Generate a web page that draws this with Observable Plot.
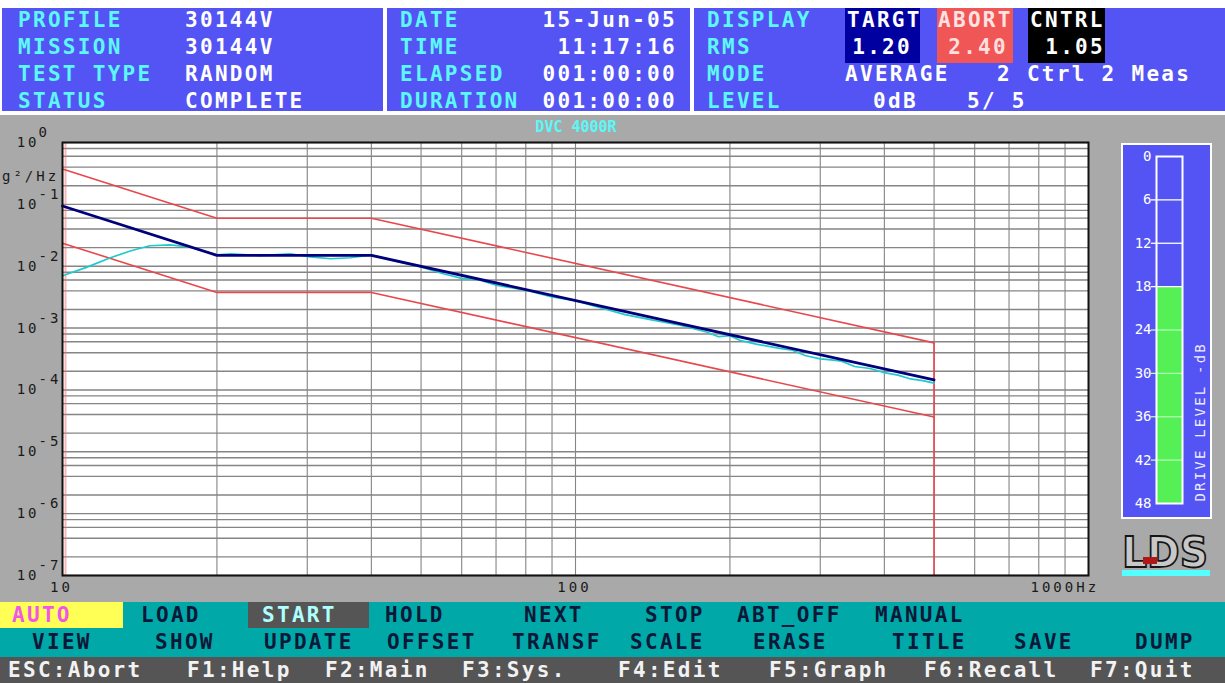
<!DOCTYPE html>
<html>
<head>
<meta charset="utf-8">
<script src="https://cdn.jsdelivr.net/npm/d3@7"></script>
<script src="https://cdn.jsdelivr.net/npm/@observablehq/plot@0.6"></script>
<style>
html, body { margin:0; padding:0; background:#a9a9a9; }
#screen { position:relative; width:1225px; height:683px; overflow:hidden; background:#a9a9a9; font-family:"DejaVu Sans Mono", monospace; }
.abs { position:absolute; }
.tx { position:absolute; white-space:pre; font-weight:bold; font-size:21px; line-height:22px; letter-spacing:2.3px; }
.sm { position:absolute; white-space:pre; font-size:14px; line-height:16px; letter-spacing:3px; }
#chart text { letter-spacing:3px; }
</style>
</head>
<body>
<div id="screen">
  <!-- header panels -->
  <div class="abs" style="left:0;top:0;width:1225px;height:115px;background:#ffffff"></div>
  <div class="abs" style="left:2px;top:8px;width:381px;height:103px;background:#5454f4"></div>
  <div class="abs" style="left:387px;top:8px;width:303px;height:103px;background:#5454f4"></div>
  <div class="abs" style="left:694px;top:8px;width:531px;height:103px;background:#5454f4"></div>
  <div class="abs" style="left:845px;top:8px;width:75px;height:55px;background:#0000a0"></div>
  <div class="abs" style="left:937px;top:8px;width:76px;height:55px;background:#f05656"></div>
  <div class="abs" style="left:1028px;top:8px;width:77px;height:55px;background:#000000"></div>
  <!-- footer panels -->
  <div class="abs" style="left:0;top:602px;width:1225px;height:55px;background:#00a8a8"></div>
  <div class="abs" style="left:0;top:602px;width:123px;height:26px;background:#ffff55"></div>
  <div class="abs" style="left:248px;top:602px;width:121px;height:26px;background:#555555"></div>
  <div class="abs" style="left:0;top:657px;width:1225px;height:26px;background:#555555"></div>
  <!-- chart -->
  <div id="chart" class="abs" style="left:0;top:115px;width:1225px;height:480px"></div>
  <!-- drive meter -->
  <div id="meter" class="abs" style="left:1121px;top:143px;width:87px;height:372px;border:2px solid #ffffff;background:#5454f4"></div>
  <!-- logo -->
  <svg class="abs" style="left:1116px;top:522px;overflow:visible" width="102" height="60">
    <text x="6" y="45" textLength="86" lengthAdjust="spacingAndGlyphs" font-family="DejaVu Sans" font-weight="bold" font-size="42" fill="#c8c8c8" stroke="#151515" stroke-width="1.8">LDS</text>
    <rect x="27" y="35" width="14" height="7" fill="#b01818"></rect>
    <rect x="6" y="48" width="88" height="6" fill="#55ffff"></rect>
  </svg>
</div>
<script>
// ---------------- data ----------------
const freqBreaks   = [10, 20, 40, 500];
const targetPSD    = [0.094, 0.015, 0.015, 0.000145];
const abortHighPSD = [0.374, 0.0597, 0.0597, 0.000577];
const abortLowPSD  = [0.0236, 0.00377, 0.00377, 0.0000364];

const controlFreq = [10, 11.1, 12.4, 13.6, 14.8, 16.2, 17.8, 19.0, 20, 21.3, 24.3, 27.8, 30.4, 33.3, 36.4, 40,
  45, 50, 55, 60, 65, 70, 80, 90, 100, 110, 125, 140, 160, 180, 190, 200, 210, 225, 250, 265, 280, 300, 315,
  330, 350, 375, 400, 425, 450, 475, 500];
const controlPSD = [0.0070, 0.0095, 0.0137, 0.0178, 0.0214, 0.0222, 0.0203, 0.0171, 0.0153, 0.0159, 0.0148,
  0.0159, 0.0142, 0.0132, 0.0137, 0.0153,
  0.0118, 0.00975, 0.00762, 0.00635, 0.00598, 0.00492, 0.00410, 0.00318, 0.00278, 0.00221, 0.00165, 0.00137,
  0.00111, 0.000865, 0.000725, 0.000755, 0.000625, 0.000550, 0.000470, 0.000438, 0.000360, 0.000317, 0.000305,
  0.000292, 0.000239, 0.000222, 0.000190, 0.0001735, 0.0001505, 0.0001414, 0.0001286];

const yTickExp = [0, -1, -2, -3, -4, -5, -6, -7];
const yMinorMult = [1, 2, 4, 6, 8];
const xGrid = [20, 30, 40, 50, 60, 70, 80, 90, 100, 200, 300, 400, 500, 600, 700, 800, 900];
const xTickLabels = ["10", "100"];
const xLastLabel = ["1000Hz"];

const meterTicks = [0, 6, 12, 18, 24, 30, 36, 42, 48];
const driveLevel = 18;
const meterTitle = ["DRIVE LEVEL -dB"];

const headerLabels1 = ["PROFILE", "MISSION", "TEST TYPE", "STATUS"];
const headerValues1 = ["30144V", "30144V", "RANDOM", "COMPLETE"];
const headerLabels2 = ["DATE", "TIME", "ELAPSED", "DURATION"];
const headerValues2 = ["15-Jun-05", "11:17:16", "001:00:00", "001:00:00"];
const headerLabels3 = ["DISPLAY", "RMS", "MODE", "LEVEL"];
const footerRow1 = [["AUTO",12],["LOAD",141],["START",262],["HOLD",385],["NEXT",524],["STOP",645],["ABT_OFF",737],["MANUAL",875]];
const footerRow2 = [["VIEW",32],["SHOW",155],["UPDATE",264],["OFFSET",387],["TRANSF",512],["SCALE",630],["ERASE",753],["TITLE",892],["SAVE",1014],["DUMP",1135]];
const footerRow3 = [["ESC:Abort",8],["F1:Help",187],["F2:Main",325],["F3:Sys.",462],["F4:Edit",618],["F5:Graph",769],["F6:Recall",924],["F7:Quit",1090]];

// ---------------- derived tables ----------------
const yGrid = yTickExp.slice(1).flatMap(e => yMinorMult.map(m => m * 10 ** e)).concat([1]);
const target = freqBreaks.map((f, i) => ({f, v: targetPSD[i]}));
const high = freqBreaks.map((f, i) => ({f, v: abortHighPSD[i]}));
const low = freqBreaks.map((f, i) => ({f, v: abortLowPSD[i]}));
const control = controlFreq.map((f, i) => ({f, v: controlPSD[i]}));

const RED = "#e8474c", NAVY = "#00007a", CYAN = "#1fc9cc";

const chart = Plot.plot({
  width: 1225, height: 480,
  marginLeft: 62, marginRight: 137, marginTop: 27, marginBottom: 20,
  x: {type: "log", domain: [10, 1000], axis: null},
  y: {type: "log", domain: [1e-7, 1], axis: null},
  style: {background: "transparent", fontFamily: "DejaVu Sans Mono", fontSize: "14px", color: "#1a1a1a", overflow: "visible"},
  marks: [
    Plot.frame({fill: "white", stroke: "none"}),
    Plot.ruleY(yGrid, {stroke: "#858585", strokeWidth: 1.4}),
    Plot.ruleX(xGrid, {stroke: "#858585", strokeWidth: 1.1}),
    Plot.ruleX([freqBreaks[0]], {stroke: "#f07070", strokeWidth: 2, dx: 3, strokeOpacity: 0.5}),
    Plot.line(high, {x: "f", y: "v", stroke: RED, strokeWidth: 1.6}),
    Plot.line(low, {x: "f", y: "v", stroke: RED, strokeWidth: 1.6}),
    Plot.ruleX([freqBreaks[3]], {x: d => d, y1: () => 1e-7, y2: () => abortHighPSD[3], stroke: RED, strokeWidth: 1.6}),
    Plot.line(control, {x: "f", y: "v", stroke: CYAN, strokeWidth: 1.7}),
    Plot.line(target, {x: "f", y: "v", stroke: NAVY, strokeWidth: 2.8}),
    Plot.frame({stroke: "#111111", strokeWidth: 2}),
    Plot.text(yTickExp, {x: () => 10, y: d => 10 ** d, text: () => "10", textAnchor: "end", dx: -23, fill: "#1a1a1a"}),
    Plot.text(yTickExp, {x: () => 10, y: d => 10 ** d, text: d => d === 0 ? "0" : "-" + (-d), textAnchor: "start", dx: -24, dy: -10, fill: "#1a1a1a"}),
    Plot.text(xTickLabels, {x: d => +d, y: () => 1e-7, text: d => d, dy: 12, dx: -1, fill: "#1a1a1a"}),
    Plot.text(xLastLabel, {x: () => 1000, y: () => 1e-7, text: d => d, textAnchor: "start", dx: -58, dy: 12, fill: "#1a1a1a"})
  ]
});
document.getElementById("chart").appendChild(chart);

const meter = Plot.plot({
  width: 87, height: 372,
  marginLeft: 33, marginRight: 28, marginTop: 11, marginBottom: 14,
  x: {domain: [0, 1], axis: null},
  y: {domain: [0, 48], reverse: true, axis: null},
  style: {background: "transparent", fontFamily: "DejaVu Sans Mono", fontSize: "14px", color: "white", overflow: "visible"},
  marks: [
    Plot.rect([driveLevel], {x1: () => 0, x2: () => 1, y1: d => d, y2: () => 48, fill: "#55f055"}),
    Plot.ruleY(meterTicks.slice(1, -1), {x1: () => -0.2, x2: () => 1, stroke: d => d > driveLevel ? "#b0ffb0" : "white", strokeWidth: 1.3}),
    Plot.frame({stroke: "white", strokeWidth: 2}),
    Plot.text(meterTicks, {x: () => 0, y: d => d, text: d => String(d), textAnchor: "end", dx: -5, fill: "white"}),
    Plot.text(meterTitle, {x: () => 1, y: () => 36.7, text: d => d, rotate: -90, dx: 18, fill: "#ececff"})
  ]
});
document.getElementById("meter").appendChild(meter);
d3.select(meter).selectAll("text").filter(function() { return this.textContent.startsWith("DRIVE"); }).attr("letter-spacing", 2.2);

// ---------------- text ----------------
const scr = document.getElementById("screen");
const chartDiv = document.getElementById("chart");
function put(txt, x, cy, color, o = {}) {
  const d = document.createElement("div");
  d.className = o.cls || "tx";
  d.textContent = txt;
  const h = o.cls === "sm" ? 8 : 11;
  d.style.top = (cy - h) + "px";
  if (o.right) d.style.right = (1225 - x - 2) + "px"; else d.style.left = x + "px";
  if (o.center) { d.style.left = (x - 200) + "px"; d.style.width = "400px"; d.style.textAlign = "center"; }
  d.style.color = color;
  if (o.weight) d.style.fontWeight = o.weight;
  if (o.spacing != null) d.style.letterSpacing = o.spacing + "px";
  if (o.size) d.style.fontSize = o.size + "px";
  if (o.behind) scr.insertBefore(d, chartDiv); else scr.appendChild(d);
}
const rows = [19.5, 46.5, 73.5, 100.5];
const LC = "#5cf8f8", W = "#ffffff";
headerLabels1.forEach((t, i) => put(t, 18, rows[i], LC));
headerValues1.forEach((t, i) => put(t, 185, rows[i], W));
headerLabels2.forEach((t, i) => put(t, 400, rows[i], LC));
headerValues2.forEach((t, i) => put(t, 675, rows[i], W, {right: true}));
headerLabels3.forEach((t, i) => put(t, 707, rows[i], LC));
put("TARGT", 847, rows[0], W);
put("1.20", 910, rows[1], W, {right: true});
put("ABORT", 938, rows[0], "#ffe2e2");
put("2.40", 1006, rows[1], "#ffdede", {right: true});
put("CNTRL", 1030, rows[0], W);
put("1.05", 1103, rows[1], W, {right: true});
put("AVERAGE", 845, rows[2], W);
put("2 Ctrl 2 Meas", 997, rows[2], W);
put("0dB", 873, rows[3], W);
put("5/ 5", 967, rows[3], W);

footerRow1.forEach(([t, x]) => put(t, x, 615, t === "AUTO" ? "#f055e8" : t === "START" ? "#b0ffff" : "#0c1838"));
footerRow2.forEach(([t, x]) => put(t, x, 642, "#0c1838"));
footerRow3.forEach(([t, x]) => put(t, x, 670, "#f2f2f2"));

put("DVC 4000R", 576, 127, "#5cf8f8", {cls: "sm", center: true, weight: "bold", spacing: 0, size: 15});
put("g²/Hz", 2, 176, "#1a1a1a", {cls: "sm", behind: true});
</script>
</body>
</html>
